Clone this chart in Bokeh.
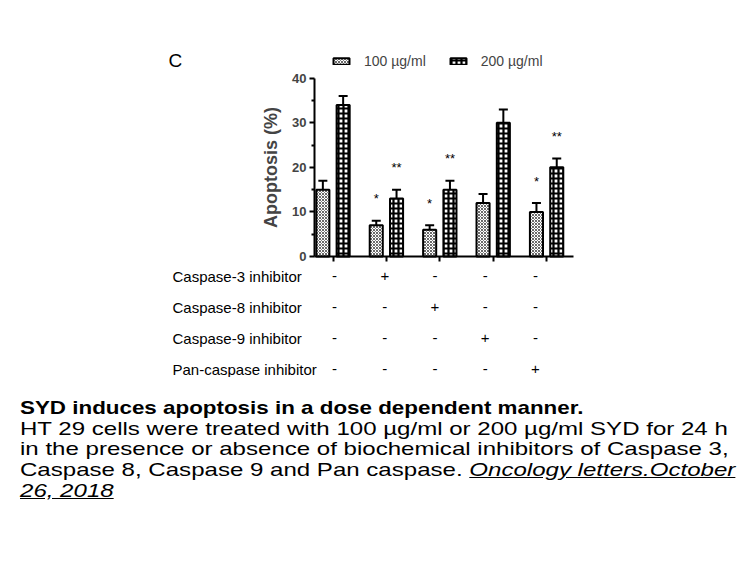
from bokeh.plotting import figure
from bokeh.models import (ColumnDataSource, Range1d, FixedTicker, Whisker, TeeHead,
                          Legend, LegendItem, Label, Div, LinearAxis)
from bokeh.transform import dodge
from bokeh.layouts import column
from bokeh.core.properties import value
from bokeh.embed import file_html
from bokeh.resources import INLINE

# ---------------- data ----------------
groups = ["control", "caspase-3 inh.", "caspase-8 inh.", "caspase-9 inh.", "pan-caspase inh."]
apop_100 = [15, 7, 6, 12, 10]
err_100 = [2, 1, 1, 2, 2]
apop_200 = [34, 13, 15, 30, 20]
err_200 = [2, 2, 2, 3, 2]
sig_100 = ["", "*", "*", "", "*"]
sig_200 = ["", "**", "**", "", "**"]
series_labels = ["100 \u00b5g/ml", "200 \u00b5g/ml"]
y_ticks = [0, 10, 20, 30, 40]
y_minor_ticks = [5, 15, 25, 35]
y_label = "Apoptosis (%)"
panel_letter = "C"
row_labels = ["Caspase-3 inhibitor", "Caspase-8 inhibitor",
              "Caspase-9 inhibitor", "Pan-caspase inhibitor"]
inhibitor_signs = [
    ["-", "+", "-", "-", "-"],
    ["-", "-", "+", "-", "-"],
    ["-", "-", "-", "+", "-"],
    ["-", "-", "-", "-", "+"],
]
caption_title = "SYD induces apoptosis in a dose dependent manner."
caption_lines = [
    "HT 29 cells were treated with 100 \u00b5g/ml or 200 \u00b5g/ml SYD for 24 h",
    "in the presence or absence of biochemical inhibitors of Caspase 3,",
    "Caspase 8, Caspase 9 and Pan caspase. ",
]
caption_source = ["Oncology letters.October", "26, 2018"]

FONT = "Liberation Sans"

# ---------------- layout geometry (page pixels) ----------------
W = 740
PX0, PPU = 332.5, 53.4          # page x of group 0 centre, px per group
PY0, PPV = 256.0, 4.4565        # page y of value 0, px per value unit
ML, MT = 120, 40                # frame borders
H = 377
ORG = 0                         # measured page offset of the figure canvas
FL, FT, FB = ORG + ML, ORG + MT, ORG + H


def xd(px):
    return (px - PX0) / PPU


def yd(py):
    return (PY0 - py) / PPV


X0, X1 = xd(314), xd(573)       # chart axis extent in data units

# ---------------- chart ----------------
idx = list(range(len(groups)))
src = ColumnDataSource(dict(
    x=idx,
    v100=apop_100, t100=[v + e for v, e in zip(apop_100, err_100)],
    v200=apop_200, t200=[v + e for v, e in zip(apop_200, err_200)],
))

p = figure(width=W, height=H, x_range=Range1d(xd(FL), xd(FL + W - ML)),
           y_range=Range1d(yd(FB), yd(FT)), title=None,
           output_backend="svg", toolbar_location=None, x_axis_location=None,
           min_border_left=ML, min_border_right=0, min_border_top=MT, min_border_bottom=0)
p.outline_line_color = None
p.grid.visible = False
p.background_fill_color = "white"

OFF, BW = 0.19, 0.245
r100 = p.vbar(x=dodge("x", -OFF), top="v100", width=BW, source=src,
              fill_color="white", line_color="black", line_width=2,
              hatch_pattern="x", hatch_scale=3, hatch_weight=0.8, hatch_color="#444444")
r200 = p.vbar(x=dodge("x", OFF), top="v200", width=BW, source=src,
              fill_color="white", line_color="black", line_width=2,
              hatch_pattern="+", hatch_scale=5, hatch_weight=2.2, hatch_color="black")

for base_off, lo, hi in [(-OFF, "v100", "t100"), (OFF, "v200", "t200")]:
    p.add_layout(Whisker(base=dodge("x", base_off), lower=lo, upper=hi, source=src,
                         dimension="height", line_width=2, line_color="black",
                         upper_head=TeeHead(size=9, line_width=2, line_color="black"),
                         lower_head=None))

for xo, sig, vals, errs in [(-OFF, sig_100, apop_100, err_100),
                            (OFF, sig_200, apop_200, err_200)]:
    keep = [i for i, s in enumerate(sig) if s]
    ssrc = ColumnDataSource(dict(x=[idx[i] for i in keep],
                                 y=[vals[i] + errs[i] for i in keep],
                                 t=[sig[i] for i in keep]))
    p.text(x=dodge("x", xo), y="y", text="t", source=ssrc, text_align="center",
           text_baseline="alphabetic", y_offset=-22, text_font=value(FONT),
           text_font_size="13px", text_color="black")

yax = p.yaxis[0]
yax.fixed_location = X0
yax.ticker = FixedTicker(ticks=y_ticks, minor_ticks=y_minor_ticks)
yax.bounds = (0, 40)
yax.axis_line_width = 2
yax.major_tick_line_width = 2
yax.minor_tick_line_width = 2
yax.major_tick_out = 5
yax.major_tick_in = 0
yax.minor_tick_out = 3
yax.minor_tick_in = 0
yax.major_label_standoff = 3
yax.major_label_text_font = FONT
yax.major_label_text_font_style = "bold"
yax.major_label_text_font_size = "13px"
yax.axis_label = y_label
yax.axis_label_text_font = FONT
yax.axis_label_text_font_style = "bold"
yax.axis_label_text_font_size = "18px"
yax.axis_label_standoff = 8

xax = LinearAxis(fixed_location=0, bounds=(X0, X1),
                 ticker=FixedTicker(ticks=idx, minor_ticks=[]))
xax.axis_line_width = 2
xax.major_tick_line_width = 2
xax.major_tick_out = 0
xax.major_tick_in = 5
xax.minor_tick_line_color = None
xax.major_label_text_font_size = "0px"
xax.major_label_text_color = None
xax.major_label_standoff = 0
p.add_layout(xax, "above")

legend = Legend(items=[LegendItem(label=series_labels[0], renderers=[r100]),
                       LegendItem(label=series_labels[1], renderers=[r200])],
                orientation="horizontal", location=(335 - FL - 4, FB - 69),
                padding=0, margin=0, spacing=22, label_standoff=13,
                glyph_width=20, glyph_height=8,
                label_text_font=FONT, label_text_font_size="14px",
                border_line_color=None, background_fill_alpha=0)
p.add_layout(legend)

p.add_layout(Label(x=xd(168), y=yd(60), text=panel_letter, text_font=FONT,
                   text_font_size="19px", text_baseline="middle", text_color="black"))

# ---------------- inhibitor table ----------------
row_y = [yd(275.5 + 31.1 * r) for r in range(len(row_labels))]
p.text(x=[xd(172)] * len(row_labels), y=row_y, text=row_labels,
       text_align="left", text_baseline="middle",
       text_font=value(FONT), text_font_size="15px", text_color="black")

sx, sy, st = [], [], []
for r, row in enumerate(inhibitor_signs):
    for c, s in enumerate(row):
        sx.append(0.03 + 0.94 * idx[c])
        sy.append(row_y[r])
        st.append(s)
p.text(x=sx, y=sy, text=st, text_align="center", text_baseline="middle",
       text_font=value(FONT), text_font_size="15px", text_color="black")

# ---------------- caption ----------------
line_style = "white-space:nowrap;transform-origin:0 0;height:20.7px;"
html = ('<div style="font-family:\'Liberation Sans\',Arial,sans-serif;font-size:19px;'
        'line-height:20.7px;color:#000;padding-top:16px;padding-left:15px;">')
html += '<div style="%stransform:scaleX(1.178);"><b>%s</b></div>' % (line_style, caption_title)
for i, ln in enumerate(caption_lines):
    extra = ""
    if i == len(caption_lines) - 1:
        extra = "<i><u>%s</u></i>" % caption_source[0]
    html += '<div style="%stransform:scaleX(1.266);">%s%s</div>' % (line_style, ln, extra)
html += '<div style="%stransform:scaleX(1.266);"><i><u>%s</u></i></div>' % (line_style, caption_source[1])
html += "</div>"
div = Div(text=html, width=W, height=150)

layout = column(p, div)
open("out.html", "w").write(file_html(layout, INLINE))
